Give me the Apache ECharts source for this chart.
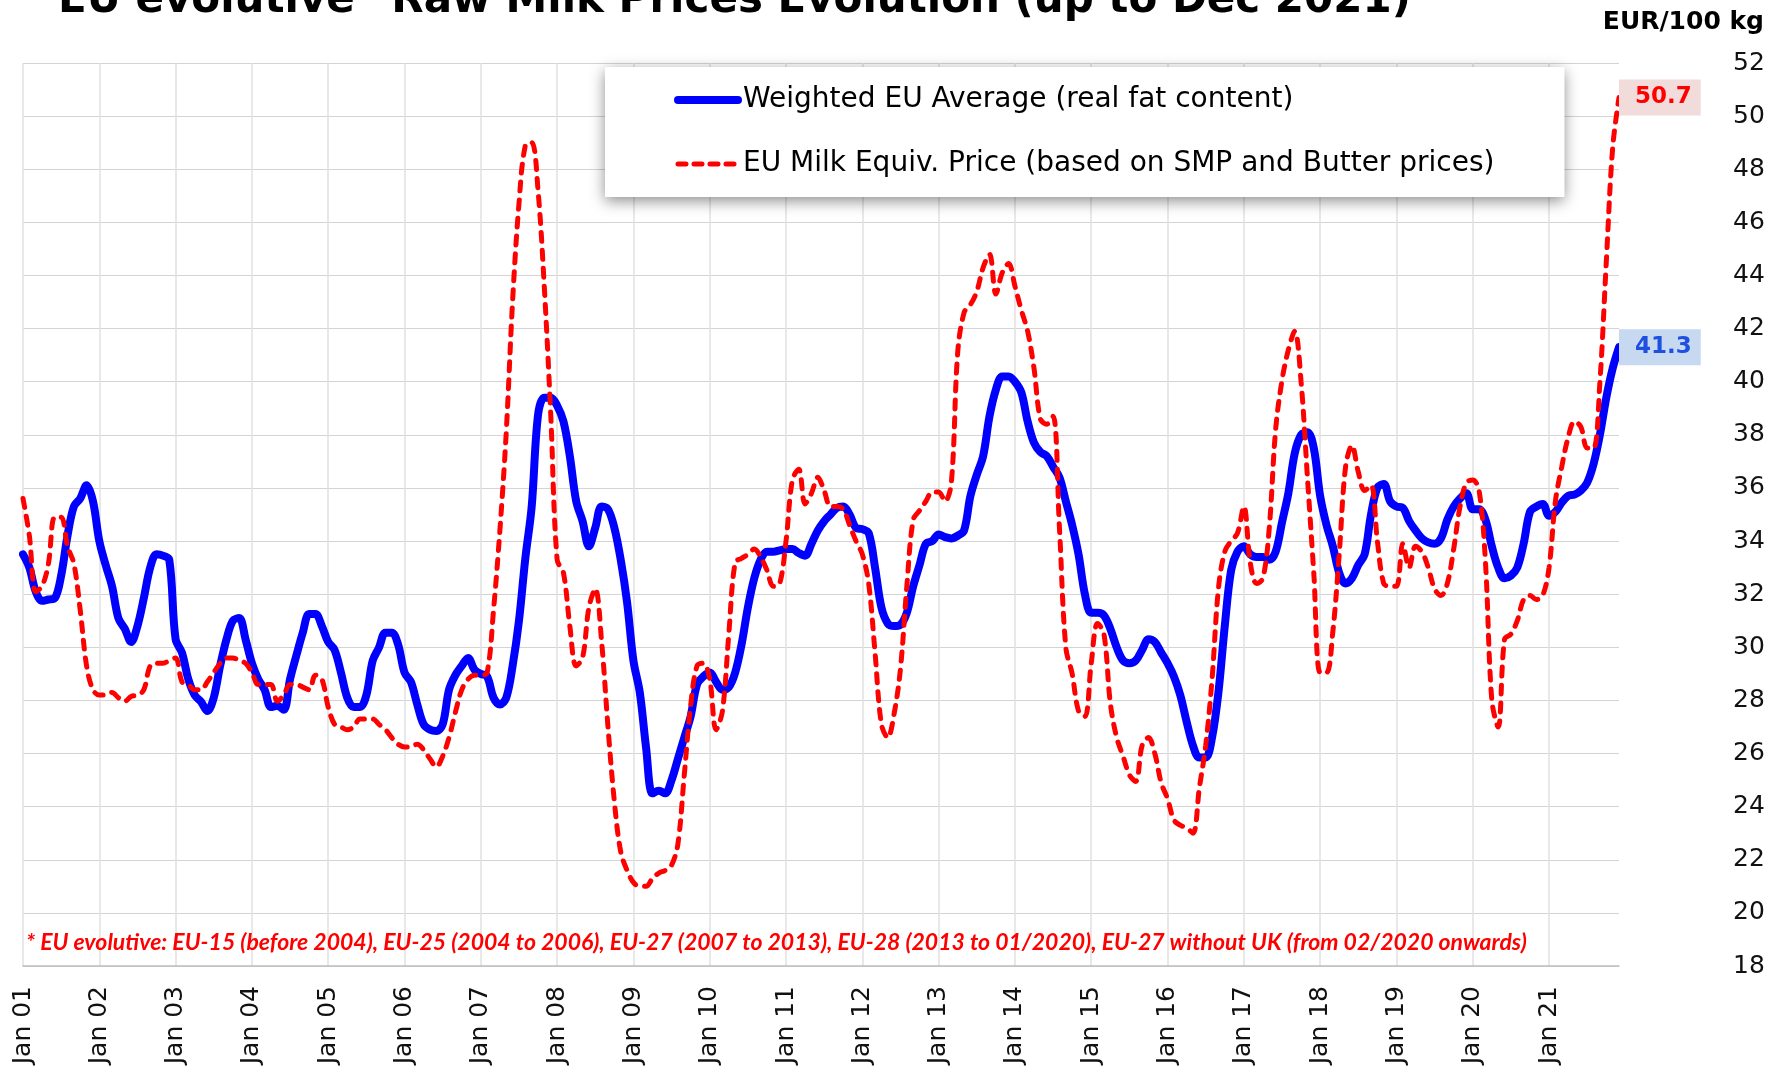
<!DOCTYPE html>
<html>
<head>
<meta charset="utf-8">
<script src="https://cdn.jsdelivr.net/npm/echarts@6/dist/echarts.min.js"></script>
<style>
  html, body { margin: 0; padding: 0; background: #fff; }
  #chart { width: 1777px; height: 1070px; }
</style>
</head>
<body>
<div id="chart"></div>
<script>
// month categories, Jan 2001 .. Dec 2021
const years = ['01','02','03','04','05','06','07','08','09','10','11','12','13','14','15','16','17','18','19','20','21']
const monthNames = ['Jan','Feb','Mar','Apr','May','Jun','Jul','Aug','Sep','Oct','Nov','Dec']
const categories = years.flatMap(y => monthNames.map(m => m + ' ' + y))

// y axis ticks (EUR/100 kg)
const yMin = 18
const yMax = 52
const yStep = 2

// Weighted EU Average (real fat content), one row per year
const weightedAvg = [
  33.5, 33.0, 32.1, 31.75, 31.8, 31.85, 32.7, 34.2, 35.3, 35.6, 36.1, 35.5,
  34.0, 33.1, 32.3, 31.1, 30.7, 30.2, 30.8, 31.85, 33.0, 33.5, 33.45, 33.3,
  30.3, 29.8, 28.8, 28.2, 27.95, 27.6, 28.1, 29.3, 30.3, 31.0, 31.1, 30.3,
  29.4, 28.8, 28.4, 27.75, 27.8, 27.65, 28.8, 29.7, 30.55, 31.25, 31.25, 30.8,
  30.2, 29.9, 29.05, 28.1, 27.75, 27.75, 28.2, 29.5, 30.0, 30.55, 30.55, 30.1,
  29.05, 28.7, 27.85, 27.1, 26.9, 26.85, 27.1, 28.4, 28.95, 29.3, 29.6, 29.15,
  29.0, 28.9, 28.1, 27.85, 28.1, 29.3, 31.0, 33.35, 35.3, 38.75, 39.4, 39.4,
  39.1, 38.5, 37.2, 35.5, 34.75, 33.8, 34.5, 35.3, 35.2, 34.5, 33.3, 31.7,
  29.5, 28.3, 26.2, 24.5, 24.6, 24.5, 25.0, 25.8, 26.6, 27.4, 28.6, 28.9,
  29.05, 28.7, 28.4, 28.5, 29.05, 30.1, 31.5, 32.6, 33.3, 33.6, 33.6, 33.65,
  33.7, 33.7, 33.55, 33.45, 33.9, 34.4, 34.75, 35.0, 35.25, 35.3, 35.0, 34.5,
  34.45, 34.3, 33.0, 31.5, 30.9, 30.8, 30.85, 31.3, 32.3, 33.1, 33.9, 34.0,
  34.25, 34.15, 34.1, 34.2, 34.4, 35.7, 36.5, 37.2, 38.7, 39.7, 40.2, 40.2,
  40.0, 39.6, 38.5, 37.7, 37.35, 37.2, 36.8, 36.4, 35.5, 34.6, 33.5, 32.0,
  31.3, 31.3, 31.2, 30.7, 30.0, 29.5, 29.4, 29.5, 29.9, 30.3, 30.2, 29.8,
  29.4, 28.9, 28.2, 27.2, 26.3, 25.85, 25.85, 26.6, 28.3, 30.8, 32.9, 33.6,
  33.8, 33.5, 33.4, 33.4, 33.3, 33.6, 34.7, 35.8, 37.3, 38.0, 38.1, 37.5,
  35.7, 34.6, 33.8, 32.8, 32.4, 32.6, 33.1, 33.5, 35.0, 36.0, 36.15, 35.5,
  35.3, 35.25, 34.75, 34.4, 34.1, 33.95, 33.9, 34.1, 34.8, 35.3, 35.6, 35.8,
  35.2, 35.2, 34.8, 33.8, 33.0, 32.6, 32.7, 33.0, 33.9, 35.1, 35.3, 35.4,
  34.95, 35.1, 35.45, 35.7, 35.75, 35.9, 36.2, 36.9, 38.0, 39.4, 40.5, 41.3
]

// EU Milk Equiv. Price (based on SMP and Butter prices), one row per year
const milkEquiv = [
  35.6, 34.2, 32.1, 32.3, 33.15, 34.9, 34.9, 33.8, 33.15, 31.4, 29.3, 28.4,
  28.2, 28.2, 28.3, 28.1, 27.97, 28.15, 28.2, 28.4, 29.3, 29.4, 29.4, 29.5,
  29.6, 28.7, 28.6, 28.4, 28.4, 28.7, 29.05, 29.4, 29.6, 29.6, 29.5, 29.4,
  29.05, 28.6, 28.6, 28.6, 27.97, 28.2, 28.6, 28.6, 28.5, 28.4, 28.95, 28.8,
  27.75, 27.1, 27.0, 26.9, 27.0, 27.3, 27.3, 27.3, 27.1, 26.9, 26.6, 26.35,
  26.25, 26.25, 26.35, 26.15, 25.8, 25.5, 25.9, 26.6, 27.55, 28.4, 28.8, 28.95,
  28.95, 29.05, 31.4, 34.4, 38.1, 43.05, 46.7, 48.9, 49.0, 47.2, 43.5, 38.75,
  33.3, 32.8, 30.8, 29.3, 29.6, 31.5, 32.2, 30.2, 27.0, 24.2, 22.3, 21.6,
  21.15, 21.0, 21.0, 21.3, 21.5, 21.6, 21.8, 22.6, 25.2, 27.8, 29.3, 29.4,
  28.8, 26.9, 27.6, 30.5, 33.2, 33.35, 33.5, 33.7, 33.4, 32.9, 32.3, 32.4,
  34.0, 36.3, 36.7, 35.4, 35.8, 36.4, 35.9, 35.3, 35.3, 35.2, 34.6, 34.0,
  33.5, 32.4, 29.8, 27.1, 26.6, 27.5, 29.2, 32.3, 34.8, 35.15, 35.5, 35.85,
  35.85, 35.5, 36.2, 41.1, 42.6, 42.9, 43.4, 44.3, 44.8, 43.3, 44.1, 44.45,
  43.6, 42.7, 41.9, 40.5, 38.6, 38.4, 38.7, 34.5, 30.0, 29.0, 27.6, 27.4,
  29.4, 30.9, 30.5, 27.9, 26.6, 25.9, 25.2, 24.95, 26.3, 26.6, 26.0, 24.9,
  24.3, 23.5, 23.3, 23.2, 23.0, 24.7, 26.3, 28.8, 32.2, 33.6, 34.0, 34.3,
  35.3, 33.2, 32.4, 32.6, 34.5, 38.2, 40.05, 41.2, 41.9, 40.0, 36.4, 32.8,
  29.05, 29.05, 30.6, 33.5, 36.8, 37.6, 36.6, 35.9, 36.1, 34.0, 32.4, 32.3,
  32.3, 33.9, 33.0, 33.8, 33.6, 33.0, 32.2, 31.95, 32.4, 33.7, 35.3, 36.2,
  36.3, 35.9, 33.2, 28.0, 27.0, 30.3, 30.5, 31.0, 31.8, 31.95, 31.8, 31.95,
  33.0, 35.5, 36.8, 37.9, 38.5, 38.3, 37.5, 37.5, 40.0, 44.5, 48.8, 50.7
]

const seriesNames = ['Weighted EU Average (real fat content)', 'EU Milk Equiv. Price (based on SMP and Butter prices)']
const titleText = 'EU evolutive* Raw Milk Prices Evolution (up to Dec 2021)'
const unitText = 'EUR/100 kg'
const noteText = '* EU evolutive: EU-15 (before 2004), EU-25 (2004 to 2006), EU-27 (2007 to 2013), EU-28 (2013 to 01/2020), EU-27 without UK (from 02/2020 onwards)'

const font = 'DejaVu Sans'
const myChart = echarts.init(document.getElementById('chart'))

const option = {
  animation: false,
  backgroundColor: '#ffffff',
  grid: { left: 23, right: 158, top: 63, bottom: 104, containLabel: false },
  legend: {
    data: [
      { name: seriesNames[0], lineStyle: { width: 8, cap: 'round' } },
      { name: seriesNames[1], lineStyle: { width: 5, type: [8, 8], cap: 'round' } }
    ],
    orient: 'vertical',
    left: 605,
    top: 67,
    padding: [19, 70, 19, 69],
    itemWidth: 60,
    itemHeight: 28,
    itemGap: 36,
    selectedMode: false,
    backgroundColor: '#ffffff',
    shadowColor: 'rgba(0,0,0,0.45)',
    shadowBlur: 14,
    shadowOffsetY: 4,
    itemStyle: { opacity: 0 },
    textStyle: { fontFamily: font, fontSize: 28, color: '#000', lineHeight: 28 }
  },
  xAxis: {
    type: 'category',
    data: categories,
    boundaryGap: false,
    axisLine: { show: true, lineStyle: { color: '#BFBFBF', width: 1.5 } },
    axisTick: { show: false },
    axisLabel: {
      interval: 11,
      rotate: 90,
      margin: 20,
      fontFamily: font,
      fontSize: 25,
      color: '#111'
    },
    splitLine: { show: true, interval: 11, lineStyle: { color: '#E0E0E0', width: 1.5 } }
  },
  yAxis: {
    type: 'value',
    position: 'right',
    min: yMin,
    max: yMax,
    interval: yStep,
    axisLine: { show: false },
    axisTick: { show: false },
    axisLabel: { margin: 114, fontFamily: font, fontSize: 25, color: '#111' },
    splitLine: { lineStyle: { color: '#D4D4D4', width: 1.2 } }
  },
  graphic: [
    {
      type: 'text', x: 58, y: 1,
      style: { text: titleText, font: 'bold 42px "DejaVu Sans"', fill: '#000', textAlign: 'left', textVerticalAlign: 'middle' }
    },
    {
      type: 'text', x: 1764, y: 22,
      style: { text: unitText, font: 'bold 25px "DejaVu Sans"', fill: '#000', textAlign: 'right', textVerticalAlign: 'middle' }
    },
    {
      type: 'text', x: 26, y: 943, z: 10,
      style: { text: noteText, font: 'italic bold 23px Lato', fill: '#FF0000', textAlign: 'left', textVerticalAlign: 'middle' }
    }
  ],
  series: [
    {
      name: seriesNames[0],
      type: 'line',
      data: weightedAvg,
      smooth: 0.35,
      symbol: 'none',
      lineStyle: { color: '#0000FF', width: 8, cap: 'round', join: 'round' },
      itemStyle: { color: '#0000FF' },
      endLabel: {
        show: true,
        distance: 0,
        formatter: p => Number(p.value).toFixed(1),
        color: '#1F4FE0',
        backgroundColor: '#C6D9F1',
        fontFamily: font,
        fontWeight: 'bold',
        fontSize: 23,
        padding: [7, 9, 6, 16]
      },
      z: 2
    },
    {
      name: seriesNames[1],
      type: 'line',
      data: milkEquiv,
      smooth: 0.35,
      symbol: 'none',
      lineStyle: { color: '#FF0000', width: 5, type: [9, 9], cap: 'round' },
      itemStyle: { color: '#FF0000' },
      endLabel: {
        show: true,
        distance: 0,
        formatter: p => Number(p.value).toFixed(1),
        color: '#FF0000',
        backgroundColor: '#F2DCDB',
        fontFamily: font,
        fontWeight: 'bold',
        fontSize: 23,
        padding: [7, 9, 6, 16]
      },
      z: 3
    }
  ]
}

myChart.setOption(option)
</script>
</body>
</html>
